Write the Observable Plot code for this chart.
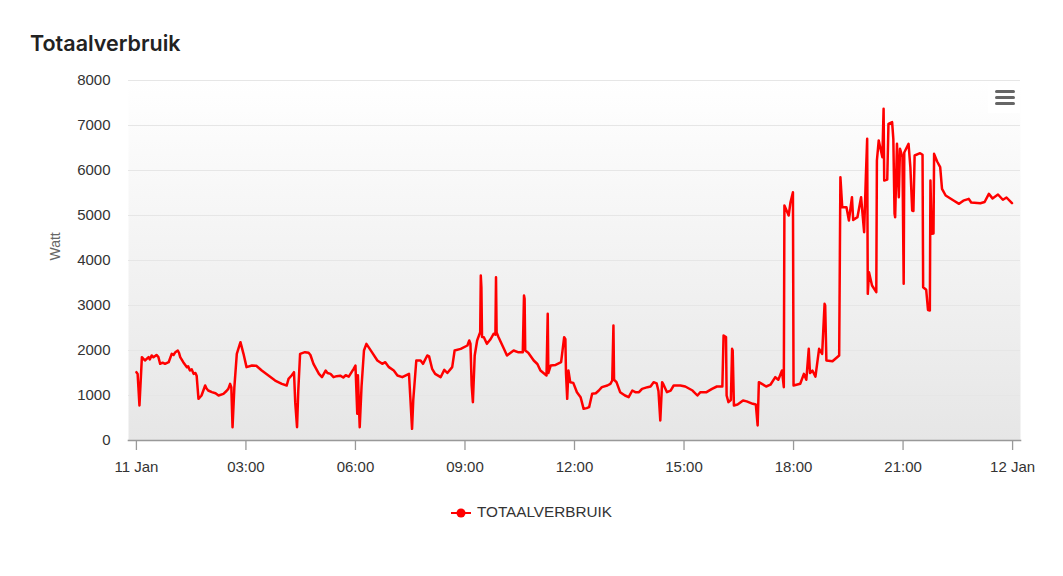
<!DOCTYPE html>
<html>
<head>
<meta charset="utf-8">
<script src="https://cdn.jsdelivr.net/npm/d3@7"></script>
<script src="https://cdn.jsdelivr.net/npm/@observablehq/plot@0.6"></script>
<style>
  html, body { margin: 0; padding: 0; background: #fff; }
  #wrap { position: relative; width: 1063px; height: 576px; font-family: "Liberation Sans", Arial, sans-serif; }
  #title { position: absolute; left: 30px; top: 30px; font-family: Inter, "Noto Sans", sans-serif; font-weight: 600; font-size: 21.5px; color: #222; }
  #chart { position: absolute; left: 0; top: 60px; }
  #menu { position: absolute; left: 988px; top: 84px; width: 32px; height: 29px; background: #fff; }
  #menu div { position: absolute; left: 7px; width: 20px; height: 3px; background: #666; border-radius: 1.5px; }
  #legend { position: absolute; left: 0; top: 503px; width: 1063px; text-align: center; font-size: 15.3px; color: #333; }
  #legend svg { vertical-align: middle; }
</style>
</head>
<body>
<div id="wrap">
  <div id="title">Totaalverbruik</div>
  <div id="chart"></div>
  <div id="menu"><div style="top:6px"></div><div style="top:12px"></div><div style="top:18px"></div></div>
  <div id="legend"></div>
</div>
<script>
// minutes since 11 Jan 00:00 and power in W, in four stretches of the day
const nightMinutes = [0,2,5,9,14,20,22,25,28,33,36,39,43,47,53,58,61,64,68,70,72,77,83,85,88,91,94,97,99,102,107,113,115,118,124,130,135,143,148,151,154,156,158,161,165,171,176,181,190,197,206,217,228,239,247,250,255,259,261,264,266,269,277,283,286,291,300,305,311,314,319,324,329,335,340,344,349,357,360,363,364,367,370,374,378,387,396,404,409,415,423,429,437,448,450,453,455,460,467,471,478,481,486,491,500,506,511,519,523,533,544,547,549,551,553,556,560,565,566,567];
const nightWatts   = [1518,1480,778,1852,1778,1852,1800,1889,1850,1900,1860,1704,1730,1704,1740,1926,1900,1963,2000,1950,1852,1740,1630,1650,1555,1580,1481,1500,1440,926,1000,1222,1160,1111,1074,1050,1000,1037,1100,1148,1259,1180,296,1185,1926,2185,1926,1630,1667,1660,1555,1444,1333,1259,1222,1370,1444,1518,852,296,1100,1926,1963,1950,1900,1704,1481,1407,1555,1500,1480,1407,1430,1440,1400,1450,1420,1593,1667,593,1450,296,1200,2000,2148,1963,1778,1704,1740,1630,1555,1444,1407,1481,1000,259,900,1778,1778,1704,1889,1870,1593,1481,1407,1570,1500,1630,2000,2037,2111,2222,2150,1222,852,1889,2222,2407,3667,3400];

const lateMorningMinutes = [568,571,576,582,587,590,591,592,595,604,609,615,620,628,635,637,638,639,644,653,659,664,674,676,677,681,689,698];
const lateMorningWatts   = [2300,2296,2148,2250,2370,2350,3630,2400,2300,2037,1889,1950,2000,1960,1963,3222,3150,2000,1950,1778,1700,1555,1444,2815,1500,1667,1680,1740];

const afternoonMinutes = [703,705,706,708,710,713,718,724,730,735,740,744,749,755,760,765,774,779,782,784,785,789,795,803,809,815,820,826,831,840,845,850,855,858,861,864,866,872,878,883,894,902,914,922,927,937,946,954,963,965,969,970,973,977,979,980,982,988,997,1003,1013,1018,1021,1023,1028,1035,1042,1050,1055,1061,1064];
const afternoonWatts   = [2296,2250,1500,926,1555,1296,1280,1074,963,704,720,741,1037,1050,1111,1185,1222,1259,1333,2555,1350,1296,1074,1000,963,1111,1074,1074,1148,1185,1200,1296,1270,1100,444,1296,1250,1074,1110,1222,1222,1200,1111,1000,1074,1074,1148,1200,1200,2333,2300,1000,852,900,2037,2000,778,800,889,870,815,800,333,1296,1259,1200,1240,1407,1350,1555,1185];

const eveningMinutes = [1065,1072,1075,1079,1080,1091,1097,1101,1105,1107,1111,1116,1122,1127,1131,1132,1134,1144,1155,1157,1160,1167,1171,1176,1178,1185,1191,1196,1199,1201,1202,1204,1209,1216,1217,1220,1226,1228,1229,1234,1236,1242,1244,1246,1247,1250,1253,1255,1259,1261,1262,1269,1272,1275,1277,1279,1288,1292,1293,1298,1301,1304,1305,1307,1310,1311,1316,1321,1324,1330,1343,1352,1359,1368,1372,1387,1394,1401,1407,1416,1424,1430,1439];
const eveningWatts   = [5222,5000,5296,5518,1222,1260,1481,1350,2037,1500,1555,1420,2037,1926,3037,3000,1778,1760,1889,5852,5185,5185,4889,5407,4900,4963,5407,4630,5926,6704,3259,3741,3444,3296,6222,6667,6296,7370,5778,5800,7037,7074,6700,5037,4963,6593,5407,6482,6300,3482,6400,6593,6074,5111,5100,6333,6385,6350,3407,3350,2900,2890,5778,4593,4600,6370,6200,6074,5593,5444,5333,5259,5330,5370,5290,5274,5300,5481,5380,5467,5350,5400,5274];

const yTicks = [0,1000,2000,3000,4000,5000,6000,7000,8000];
const xTickHours = [0,3,6,9,12,15,18,21,24];
const xTickLabels = ["11 Jan","03:00","06:00","09:00","12:00","15:00","18:00","21:00","12 Jan"];
const seriesName = "TOTAALVERBRUIK";
const yLabel = "Watt";

const base = Date.UTC(2024, 0, 11);
const t = m => new Date(base + m * 60000);
const minutes = [...nightMinutes, ...lateMorningMinutes, ...afternoonMinutes, ...eveningMinutes];
const watts = [...nightWatts, ...lateMorningWatts, ...afternoonWatts, ...eveningWatts];
const data = minutes.map((m, i) => ({time: t(m), watt: watts[i]}));
const xTicks = xTickHours.map(h => t(h * 60));
const labelOf = new Map(xTicks.map((d, i) => [+d, xTickLabels[i]]));

const plot = Plot.plot({
  width: 1063,
  height: 420,
  marginLeft: 128,
  marginRight: 43,
  marginTop: 20,
  marginBottom: 40,
  style: {fontFamily: '"Liberation Sans", Arial, sans-serif', fontSize: "15px", color: "#333", background: "transparent"},
  x: {type: "utc", domain: [t(-13), t(1453)]},
  y: {domain: [0, 8000]},
  marks: [
    Plot.frame({fill: "url(#bggrad)", stroke: null}),
    Plot.gridY(yTicks.slice(1), {stroke: "#e6e6e6", strokeOpacity: 1, strokeWidth: 1}),
    Plot.axisY(yTicks, {tickSize: 0, tickPadding: 18, label: null, fill: "#333", fontSize: 15, tickFormat: d => String(d)}),
    Plot.axisX(xTicks, {tickSize: 10, tickPadding: 11, label: null, stroke: "#999", strokeWidth: 1.3, fill: "#333", fontSize: 15, tickFormat: d => labelOf.get(+d)}),
    Plot.frame({anchor: "bottom", stroke: "#999", strokeWidth: 1.6}),
    Plot.text([yLabel], {frameAnchor: "left", dx: -73, rotate: -90, fill: "#666", fontSize: 14}),
    Plot.line(data, {x: "time", y: "watt", stroke: "#ff0000", strokeWidth: 2.5, strokeLinejoin: "round", curve: "linear"})
  ]
});

const svg = d3.select(plot);
const defs = svg.insert("defs", ":first-child");
const g = defs.append("linearGradient").attr("id", "bggrad").attr("x1", 0).attr("y1", 0).attr("x2", 0).attr("y2", 1);
g.append("stop").attr("offset", "0%").attr("stop-color", "#ffffff");
g.append("stop").attr("offset", "100%").attr("stop-color", "#e6e6e6");
document.getElementById("chart").appendChild(plot);

// legend
const leg = d3.select("#legend");
const ls = leg.append("svg").attr("width", 20).attr("height", 12).style("margin-right", "6px");
ls.append("line").attr("x1", 0).attr("x2", 20).attr("y1", 6).attr("y2", 6).attr("stroke", "#ff0000").attr("stroke-width", 2);
ls.append("circle").attr("cx", 10).attr("cy", 6).attr("r", 4.5).attr("fill", "#ff0000");
leg.append("span").text(seriesName);
</script>
</body>
</html>
